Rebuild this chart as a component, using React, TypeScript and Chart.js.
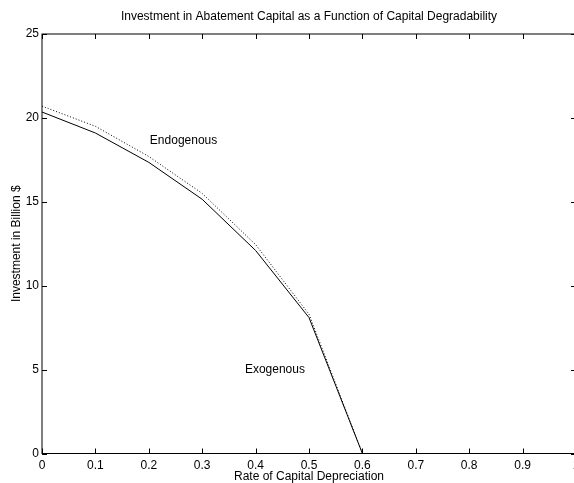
import React, { useEffect, useRef } from "react";
import { Chart, registerables } from "chart.js";

Chart.register(...registerables);

const xValues = [0, 0.1, 0.2, 0.3, 0.4, 0.5, 0.6];
const endogenous = [20.35, 19.1, 17.35, 15.15, 12.1, 8.1, 0];
const exogenous = [20.7, 19.5, 17.7, 15.5, 12.45, 8.3, 0];

const xTicks = [0, 0.1, 0.2, 0.3, 0.4, 0.5, 0.6, 0.7, 0.8, 0.9, 1];
const xTickLabels = ["0", "0.1", "0.2", "0.3", "0.4", "0.5", "0.6", "0.7", "0.8", "0.9", "1"];
const yTicks = [0, 5, 10, 15, 20, 25];
const yTickLabels = ["0", "5", "10", "15", "20", "25"];

const annotations = [
  { text: "Endogenous", x: 0.202, y: 18.65 },
  { text: "Exogenous", x: 0.38, y: 4.97 },
];

const FONT = '"Liberation Sans", Arial, Helvetica, sans-serif';

const boxPlugin = {
  id: "matlabBox",
  afterDatasetsDraw(chart: any) {
    const { ctx, chartArea: a, scales } = chart;
    ctx.save();
    ctx.strokeStyle = "#000";
    ctx.lineWidth = 1;
    ctx.strokeRect(a.left, a.top, a.right - a.left, a.bottom - a.top);
    ctx.beginPath();
    const L = 5;
    for (const v of xTicks) {
      const px = Math.round(scales.x.getPixelForValue(v)) + 0.5;
      ctx.moveTo(px, a.bottom);
      ctx.lineTo(px, a.bottom - L);
      ctx.moveTo(px, a.top);
      ctx.lineTo(px, a.top + L);
    }
    for (const v of yTicks) {
      const py = Math.round(scales.y.getPixelForValue(v)) + 0.5;
      ctx.moveTo(a.left, py);
      ctx.lineTo(a.left + L, py);
      ctx.moveTo(a.right, py);
      ctx.lineTo(a.right - L, py);
    }
    ctx.stroke();
    ctx.fillStyle = "#000";
    ctx.font = `12px ${FONT}`;
    ctx.textAlign = "left";
    ctx.textBaseline = "middle";
    for (const an of annotations) {
      ctx.fillText(an.text, scales.x.getPixelForValue(an.x), scales.y.getPixelForValue(an.y));
    }
    ctx.restore();
  },
};

export default function App() {
  const ref = useRef<HTMLCanvasElement>(null);
  useEffect(() => {
    if (!ref.current) return;
    Chart.defaults.font.family = FONT;
    Chart.defaults.color = "#000";
    const chart = new Chart(ref.current, {
      type: "line",
      data: {
        datasets: [
          {
            label: "Endogenous",
            data: xValues.map((x, i) => ({ x, y: endogenous[i] })),
            borderColor: "#000",
            borderWidth: 1,
            pointRadius: 0,
            tension: 0,
            order: 1,
          },
          {
            label: "Exogenous",
            data: xValues.map((x, i) => ({ x, y: exogenous[i] })),
            borderColor: "#000",
            borderWidth: 1,
            borderDash: [1, 2],
            pointRadius: 0,
            tension: 0,
            order: 2,
          },
        ],
      },
      options: {
        animation: false,
        responsive: false,
        layout: { padding: { left: 0, right: 24, top: 0, bottom: 0 } },
        plugins: {
          legend: { display: false },
          tooltip: { enabled: false },
          title: {
            display: true,
            text: "Investment in Abatement Capital as a Function of Capital Degradability",
            font: { size: 12, weight: "normal" },
            color: "#000",
            fullSize: false,
            padding: { top: 9.8, bottom: 9.8 },
          },
        },
        scales: {
          x: {
            type: "linear",
            min: 0,
            max: 1,
            afterBuildTicks: (s: any) => {
              s.ticks = xTicks.map((v) => ({ value: v }));
            },
            afterFit: (s: any) => {
              s.height = 29.5;
            },
            grid: { display: false, drawTicks: false },
            border: { display: false },
            ticks: {
              autoSkip: false,
              maxRotation: 0,
              padding: 5,
              font: { size: 12 },
              color: "#000",
              callback: (_v: any, i: number) => xTickLabels[i],
            },
            title: {
              display: true,
              text: "Rate of Capital Depreciation",
              font: { size: 12, lineHeight: 1 },
              color: "#000",
              padding: { top: 0, bottom: 0 },
            },
          },
          y: {
            type: "linear",
            min: 0,
            max: 25,
            afterBuildTicks: (s: any) => {
              s.ticks = yTicks.map((v) => ({ value: v }));
            },
            afterFit: (s: any) => {
              s.width = 42;
            },
            grid: { display: false, drawTicks: false },
            border: { display: false },
            ticks: {
              autoSkip: false,
              padding: 3,
              font: { size: 12 },
              color: "#000",
              callback: (_v: any, i: number) => yTickLabels[i],
            },
            title: {
              display: true,
              text: "Investment in Billion $",
              font: { size: 12 },
              color: "#000",
              padding: { top: 9.3, bottom: 0 },
            },
          },
        },
      },
      plugins: [boxPlugin],
    });
    return () => chart.destroy();
  }, []);
  return (
    <div
      style={{
        position: "absolute",
        left: 0,
        top: 0,
        width: 574,
        height: 483,
        overflow: "hidden",
        background: "#fff",
      }}
    >
      <canvas ref={ref} width={600} height={483} style={{ display: "block" }} />
    </div>
  );
}
